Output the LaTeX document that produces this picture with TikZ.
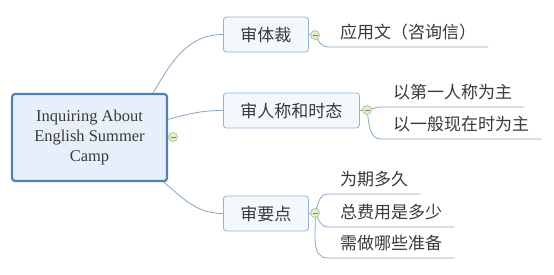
\documentclass[tikz,border=0pt]{standalone}
\usepackage{fontspec}
\setmainfont{Liberation Serif}
\newfontfamily\cjk{Noto Sans CJK SC}
\definecolor{rootblue}{HTML}{4F81B5}
\definecolor{rootfill}{HTML}{E7F0FA}
\definecolor{topicblue}{HTML}{93B4D6}
\definecolor{topicfill}{HTML}{F3F8FD}
\definecolor{linkblue}{HTML}{86A6C6}
\definecolor{textgray}{HTML}{3A3A3A}
\definecolor{folddraw}{HTML}{A8C68C}
\definecolor{foldfill}{HTML}{E2EECF}
\tikzstyle{root} = [draw=rootblue, line width=2.2pt, fill=rootfill, rounded corners=3pt, minimum width=155pt, minimum height=87pt, align=center, text=textgray, font=\fontsize{16.5}{20}\selectfont]
\tikzstyle{topic} = [draw=topicblue, line width=0.8pt, fill=topicfill, rounded corners=3pt, minimum height=35pt, inner xsep=17pt, anchor=west, text=textgray, font=\cjk\fontsize{17}{20}\selectfont]
\tikzstyle{leaf} = [inner xsep=12pt, inner ysep=0pt, text height=14pt, text depth=8pt, anchor=south west, text=textgray, font=\cjk\fontsize{17}{20}\selectfont]
\tikzstyle{fold} = [circle, draw=folddraw, fill=foldfill, line width=0.7pt, minimum size=9pt, inner sep=0pt]
\tikzstyle{link} = [draw=linkblue, line width=0.8pt]

\begin{document}
\begin{tikzpicture}[x=1pt, y=1pt]
	\useasboundingbox[fill=white] (0,0) rectangle (554,274);
	% root and topics
	\node[root] (root) at (89.5,136.5) {Inquiring About\\English Summer\\Camp};
	\node[topic] (genre) at (223,239.5) {审体裁};
	\node[topic] (person) at (223,163.5) {审人称和时态};
	\node[topic] (points) at (223,60.5) {审要点};
	% leaves
	\node[leaf] (letter) at (328,227) {应用文（咨询信）};
	\node[leaf] (first) at (381,167) {以第一人称为主};
	\node[leaf] (present) at (381,135) {以一般现在时为主};
	\node[leaf] (howlong) at (328,80) {为期多久};
	\node[leaf] (cost) at (328,47) {总费用是多少};
	\node[leaf] (prepare) at (328,16) {需做哪些准备};
	% fold markers
	\coordinate (c0) at (173,137);
	\coordinate (c1) at (315,239);
	\coordinate (c2) at (367,164);
	\coordinate (c3) at (315,61);
	% connectors
	\draw[link] (root.35) to[out=60, in=180] (genre.west);
	\draw[link] (root.13) to[out=15, in=180] (person.west);
	\draw[link] (root.-31) to[out=-40, in=180] (points.west);
	\draw[link] (genre.east) -- (c1);
	\draw[link] (person.east) -- (c2);
	\draw[link] (points.east) -- (c3);
	\draw[link] (c1) to[out=-60, in=180] (letter.south west) -- (letter.south east);
	\draw[link] (c2) to[out=10, in=180] (first.south west) -- (first.south east);
	\draw[link] (c2) to[out=-80, in=180] (present.south west) -- (present.south east);
	\draw[link] (c3) to[out=70, in=180] (howlong.south west) -- (howlong.south east);
	\draw[link] (c3) to[out=-60, in=180] (cost.south west) -- (cost.south east);
	\draw[link] (c3) to[out=-85, in=180] (prepare.south west) -- (prepare.south east);
	\foreach \c in {c0,c1,c2,c3} {
		\node[fold] (f\c) at (\c) {};
		\draw[folddraw!70!black, line width=0.5pt] ([xshift=-2.5pt]\c) -- ([xshift=2.5pt]\c);
	}
\end{tikzpicture}
\end{document}
